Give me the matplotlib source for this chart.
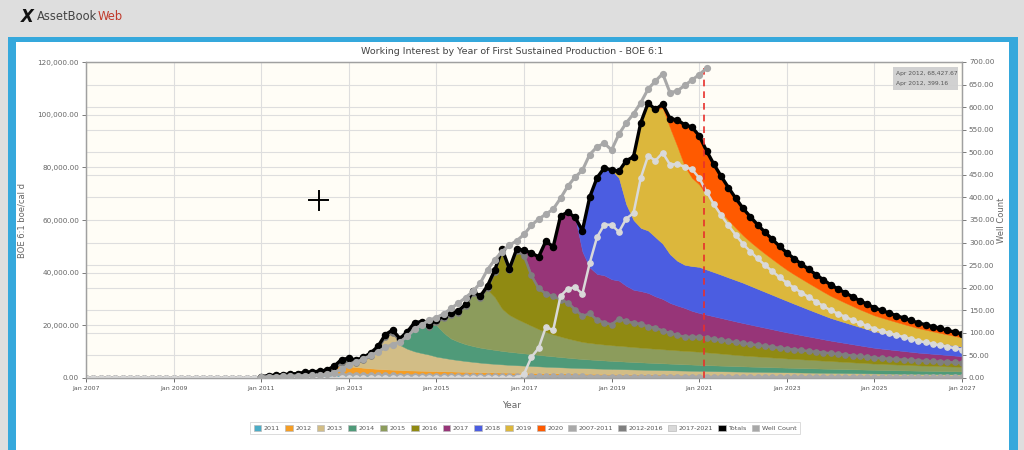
import numpy as np
import matplotlib.pyplot as plt
from matplotlib.patches import Rectangle, Patch
from matplotlib.lines import Line2D
from matplotlib.ticker import MultipleLocator, FixedLocator, FuncFormatter

W, H = 1024, 450

# one point every two months, Jan 2011 .. Jan 2027
years = 2011 + np.arange(97) / 6.0
# Jan 2007 .. Nov 2010, before any production
lead_years = 2007 + np.arange(24) / 6.0

# boe/cal d by vintage, each list runs to Jan 2027 and starts when the vintage came on
v2011 = [500, 900, 1100, 1300, 1500, 1700, 1800, 1600, 1500, 1400, 1300, 1250,
         1200, 1150, 1100, 1060, 1020, 990, 960, 930, 900, 880, 860, 840,
         820, 800, 780, 760, 745, 730, 715, 700, 690, 680, 670, 660,
         650, 640, 630, 620, 610, 600, 590, 580, 570, 560, 550, 540,
         530, 520, 510, 500, 490, 480, 470, 460, 450, 440, 430, 420,
         410, 405, 400, 395, 390, 385, 380, 375, 370, 365, 360, 355,
         350, 345, 340, 335, 330, 325, 320, 315, 310, 305, 300, 295,
         290, 285, 280, 275, 270, 265, 260, 255, 250, 245, 240, 235, 230]
v2012 = [400, 700, 1100, 1600, 3200, 3300,
         3200, 3000, 2800, 2600, 2450, 2300, 2200, 2100, 2000, 1950, 1900, 1850,
         1800, 1750, 1700, 1650, 1600, 1560, 1520, 1480, 1440, 1400, 1370, 1340,
         1310, 1280, 1250, 1220, 1190, 1160, 1130, 1100, 1080, 1060, 1040, 1020,
         1000, 980, 960, 940, 920, 900, 880, 860, 840, 820, 800, 780,
         760, 750, 740, 730, 720, 710, 700, 690, 680, 670, 660, 650,
         640, 630, 620, 610, 600, 590, 580, 570, 560, 550, 540, 530,
         520, 510, 500, 490, 480, 470, 460, 450, 440, 430, 420, 410, 400]
v2013 = [2450,
         3100, 2650, 3900, 5840, 8530, 13210, 15040, 9500, 8200, 7300, 6700, 6200,
         5500, 5100, 4700, 4400, 4100, 3850, 3600, 3400, 3250, 3100, 2950, 2850,
         2750, 2650, 2550, 2450, 2380, 2300, 2230, 2170, 2110, 2060, 2010, 1960,
         1920, 1880, 1840, 1800, 1770, 1740, 1710, 1680, 1650, 1620, 1590, 1560,
         1530, 1495, 1460, 1430, 1400, 1370, 1340, 1310, 1285, 1260, 1230, 1205, 1180,
         1155, 1130, 1105, 1085, 1060, 1040, 1020, 1000, 980, 960, 940, 920,
         905, 885, 870, 850, 835, 820, 805, 790, 780, 765, 750, 740]
v2014 = [2470, 6400, 10870, 11940, 11310,
         12000, 9500, 7800, 7000, 6400, 6000, 5700, 5500, 5300, 5100, 4950, 4800,
         4650, 4500, 4350, 4200, 4050, 3900, 3750, 3600, 3450, 3350, 3250, 3150,
         3050, 2980, 2900, 2830, 2760, 2700, 2640, 2580, 2520, 2460, 2400, 2350,
         2300, 2245, 2195, 2145, 2095, 2045, 2000, 1960, 1920, 1880, 1840, 1800, 1760,
         1725, 1690, 1655, 1625, 1590, 1560, 1530, 1500, 1470, 1445, 1415, 1390,
         1365, 1340, 1320, 1295, 1270, 1250, 1230, 1210, 1190, 1170, 1150, 1130]
v2015 = [1880, 6350, 9620, 11690, 15150, 20860, 19470, 22420, 20000, 16000, 14000, 12800,
         11800, 10800, 9800, 9000, 8300, 7800, 7300, 6900, 6500, 6300, 6150, 6050,
         5950, 5900, 5800, 5700, 5600, 5500, 5420, 5340, 5260, 5180, 5100, 5050,
         5000, 4860, 4720, 4580, 4430, 4290, 4150, 4040, 3930, 3820, 3720, 3610, 3500,
         3410, 3320, 3230, 3130, 3040, 2950, 2850, 2750, 2650, 2550, 2450, 2350,
         2290, 2230, 2180, 2120, 2060, 2000, 1960, 1920, 1880, 1830, 1790, 1750]
v2016 = [1500, 10320, 22720, 17560, 26550,
         25840, 19770, 16050, 15130, 15080, 14640, 14090, 12230, 10360, 11730, 9550, 8820,
         8380, 10760, 10000, 9630, 9450, 8660, 8350, 7540, 6730, 6220, 5710, 5860,
         6010, 5840, 5670, 5500, 5330, 5160, 5000, 4830, 4660, 4500, 4330, 4160, 4000,
         3870, 3740, 3620, 3500, 3370, 3250, 3120, 2990, 2870, 2740, 2620, 2500,
         2420, 2350, 2270, 2200, 2120, 2050, 2000, 1950, 1900, 1850, 1800, 1750]
v2017 = [1500, 7860, 11370, 19380, 18190, 31100, 33910, 34420, 23930, 16940, 16950, 17460,
         16670, 13980, 12990, 12100, 12010, 12320, 11530, 11540, 11050, 10760, 10570, 9480,
         8690, 8460, 8230, 8000, 7770, 7530, 7300, 7070, 6830, 6600, 6370, 6130, 5900,
         5670, 5430, 5200, 4970, 4730, 4500, 4330, 4170, 4000, 3830, 3670, 3500,
         3380, 3270, 3150, 3030, 2920, 2800, 2720, 2630, 2550, 2470, 2380, 2300]
v2018 = [8000, 26700, 36500, 40800,
         41500, 39000, 31000, 26500, 24000, 23700, 22500, 21000, 18500, 17000, 16400, 17000,
         17500, 17150, 16800, 16450, 16050, 15700, 15300, 14750, 14200, 13650, 13100, 12550, 12000,
         11400, 10850, 10250, 9700, 9150, 8600, 8200, 7800, 7400, 7000, 6650, 6300,
         6040, 5780, 5530, 5280, 5040, 4800, 4590, 4380, 4180, 3980, 3790, 3600]
v2019 = [2500, 16500, 24000, 40000, 48400,
         48500, 51500, 48000, 43500, 37500, 33500,
         31300, 28400, 25900, 23700, 21700, 19800, 18000, 16700, 15550, 14500, 13550, 12650, 11800,
         11150, 10550, 10000, 9450, 8900, 8400, 7950, 7500, 7100, 6700, 6350, 6000,
         5720, 5450, 5200, 4960, 4730, 4500, 4320, 4140, 3970, 3810, 3650, 3500]
v2020 = [1500, 3500, 10000, 15700, 19300,
         18500, 16700, 15100, 13700, 12450, 11300, 10300, 9500, 8800, 8150, 7550, 6950, 6400,
         6000, 5600, 5250, 4900, 4550, 4200, 3970, 3750, 3530, 3320, 3110, 2900,
         2740, 2580, 2430, 2280, 2140, 2000, 1900, 1800, 1700, 1600, 1500, 1400]

# wells, Jan 2011 .. Mar 2021
well_count = [2, 3, 3, 4, 4, 5, 5, 6, 6, 8, 12, 20,
              28, 35, 42, 50, 58, 68, 74, 80, 92, 108, 118, 128,
              134, 142, 154, 166, 178, 192, 210, 240, 262, 280, 294, 304,
              318, 338, 352, 363, 374, 398, 425, 445, 460, 495, 512, 520,
              505, 540, 565, 585, 610, 640, 658, 674, 632, 636, 648, 660,
              672, 686]

vintage_labels = ['2011', '2012', '2013', '2014', '2015', '2016', '2017', '2018', '2019', '2020']
vintage_colors = ['#4bacc6', '#f59d24', '#d2bd86', '#4f9a79', '#8c9c5c',
                  '#908a12', '#973578', '#4b5de1', '#dcb73c', '#ff5a00']
group_labels = ['2007-2011', '2012-2016', '2017-2021']
group_colors = ['#a9a9a9', '#7f7f7f', '#d9d9d9']
totals_color = '#000000'
wells_color = '#a8a8a8'
x_ticks = [2007, 2009, 2011, 2013, 2015, 2017, 2019, 2021, 2023, 2025, 2027]

cursor_date = 2021.1


def pad(vals):
    out = np.zeros(len(years))
    out[len(years) - len(vals):] = vals
    return out


stacks = [pad(v) for v in (v2011, v2012, v2013, v2014, v2015,
                           v2016, v2017, v2018, v2019, v2020)]
totals = np.sum(stacks, axis=0)
groups = [stacks[0], np.sum(stacks[1:6], axis=0), np.sum(stacks[6:10], axis=0)]


def fx(x):
    return x / W


def fy(y):
    return 1 - y / H


fig = plt.figure(figsize=(W / 100, H / 100), dpi=100)
fig.patch.set_facecolor('#dedede')

# page frame
fig.add_artist(Rectangle((fx(8), 0), fx(1018) - fx(8), fy(37), transform=fig.transFigure,
                         facecolor='#35a8dc', edgecolor='none', zorder=-10))
fig.add_artist(Rectangle((fx(16), 0), fx(1009) - fx(16), fy(42), transform=fig.transFigure,
                         facecolor='white', edgecolor='none', zorder=-9))

# logo
fig.text(fx(21), fy(17), 'X', fontsize=12, fontweight='bold', color='#111111',
         ha='left', va='center', fontstyle='italic')
fig.text(fx(37), fy(17), 'AssetBook', fontsize=8.3, color='#444444', ha='left', va='center')
fig.text(fx(98), fy(17), 'Web', fontsize=8.3, color='#c0392b', ha='left', va='center')

ax = fig.add_axes([fx(86), fy(378), fx(962) - fx(86), fy(62) - fy(378)])
ax.set_facecolor('#fffdf6')
ax.set_xlim(2007, 2027)
ax.set_ylim(0, 120000)

polys = ax.stackplot(years, *stacks, colors=vintage_colors, zorder=2)
for p, c in zip(polys, vintage_colors):
    p.set_edgecolor(c)
    p.set_linewidth(0.3)

x_full = np.concatenate([lead_years, years])
for g, c, z in zip(groups, group_colors, (3.0, 3.1, 3.2)):
    g_full = np.concatenate([np.zeros(len(lead_years)), g])
    ax.plot(x_full, g_full, color=c, lw=1.8, marker='o', ms=3.8, mec=c, zorder=z)

ax.plot(years, totals, color=totals_color, lw=2.4, marker='o', ms=4.4, zorder=3.5)
ax.axvline(cursor_date, color='#e8302c', lw=1.2, ls=(0, (4, 3)), zorder=4)

ax.xaxis.set_major_locator(FixedLocator(x_ticks))
ax.xaxis.set_major_formatter(FuncFormatter(lambda v, p: f'Jan {int(round(v))}'))
ax.yaxis.set_major_locator(MultipleLocator(20000))
ax.yaxis.set_minor_locator(MultipleLocator(120000 / 14))
ax.yaxis.set_major_formatter(FuncFormatter(lambda v, p: f'{v:,.2f}'))
ax.grid(True, which='major', axis='both', color='#dedede', lw=0.8, zorder=0)
ax.grid(True, which='minor', axis='y', color='#dedede', lw=0.8, zorder=0)
ax.set_axisbelow(True)
ax.tick_params(axis='x', labelsize=4.5, colors='#555555', length=3, width=0.6, pad=3)
ax.tick_params(axis='y', labelsize=5.2, colors='#666666', length=3, width=0.6, pad=2)
ax.tick_params(axis='y', which='minor', length=0)
for s in ax.spines.values():
    s.set_color('#a0a0a0')
    s.set_linewidth(0.9)

ax2 = ax.twinx()
ax2.set_ylim(0, 700)
ax2.plot(years[:len(well_count)], well_count, color=wells_color, lw=2.2,
         marker='o', ms=4.2, zorder=5)
ax2.yaxis.set_major_locator(MultipleLocator(50))
ax2.yaxis.set_major_formatter(FuncFormatter(lambda v, p: f'{v:.2f}'))
ax2.tick_params(axis='y', labelsize=5.2, colors='#666666', length=3, width=0.6, pad=2)
for s in ax2.spines.values():
    s.set_color('#a0a0a0')
    s.set_linewidth(0.9)

# titles and axis names
fig.text(fx(512), fy(51), 'Working Interest by Year of First Sustained Production - BOE 6:1',
         ha='center', va='center', fontsize=6.8, color='#444444')
fig.text(fx(512), fy(406), 'Year', ha='center', va='center', fontsize=6.5, color='#666666')
fig.text(fx(22), fy(220), 'BOE 6:1 boe/cal d', rotation=90, ha='center', va='center',
         fontsize=6, color='#666666')
fig.text(fx(1001), fy(220), 'Well Count', rotation=90, ha='center', va='center',
         fontsize=6, color='#666666')

# hover tooltip
fig.add_artist(Rectangle((fx(893), fy(90)), fx(958) - fx(893), fy(67) - fy(90),
                         transform=fig.transFigure, facecolor='#cfcfcf', edgecolor='none',
                         alpha=0.95, zorder=6))
fig.text(fx(896), fy(73), 'Apr 2012, 68,427.67', fontsize=4.3, color='#555555',
         ha='left', va='center', zorder=7)
fig.text(fx(896), fy(84), 'Apr 2012, 399.16', fontsize=4.3, color='#555555',
         ha='left', va='center', zorder=7)

# mouse cursor
fig.add_artist(Line2D([fx(309), fx(328)], [fy(200), fy(200)], color='black', lw=1.4,
                      transform=fig.transFigure, zorder=8))
fig.add_artist(Line2D([fx(318.5), fx(318.5)], [fy(191), fy(210)], color='black', lw=1.4,
                      transform=fig.transFigure, zorder=8))

# legend
handles = [Patch(facecolor=c, edgecolor='#bbbbbb', lw=0.5) for c in vintage_colors]
handles += [Patch(facecolor=c, edgecolor='#bbbbbb', lw=0.5) for c in group_colors]
handles += [Patch(facecolor=totals_color, edgecolor='#bbbbbb', lw=0.5),
            Patch(facecolor=wells_color, edgecolor='#bbbbbb', lw=0.5)]
labels = vintage_labels + group_labels + ['Totals', 'Well Count']
leg = fig.legend(handles, labels, loc='center', bbox_to_anchor=(fx(525), fy(428)),
                 ncol=len(labels), fontsize=4.6, frameon=True, fancybox=False,
                 edgecolor='#cccccc', handlelength=1.2, handleheight=1.2,
                 handletextpad=0.4, columnspacing=0.8, borderpad=0.5)
leg.get_frame().set_linewidth(0.6)
for t in leg.get_texts():
    t.set_color('#555555')

fig.savefig('out.png', dpi=100, facecolor=fig.get_facecolor())
